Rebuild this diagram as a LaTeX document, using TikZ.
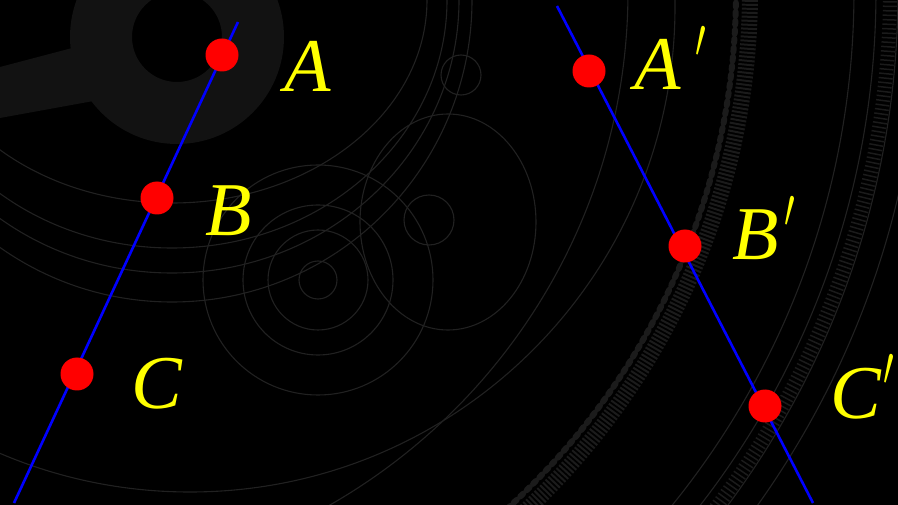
\documentclass[tikz,border=0pt]{standalone}
\usepackage{fontspec}
\setmainfont{Liberation Serif}
\usepackage{graphicx}
\DeclareFontShape{OMS}{cmsy}{m}{n}{<->cmsy10}{}
\definecolor{bgline}{RGB}{33,33,33}
\definecolor{bgteeth}{RGB}{27,27,27}
\definecolor{hubcol}{RGB}{18,18,18}
\definecolor{ptred}{RGB}{255,0,0}
\definecolor{lnblue}{RGB}{0,0,255}
\definecolor{lblyel}{RGB}{255,255,0}
\newcommand{\prm}[1]{\kern#1\raisebox{4pt}{\scalebox{0.72}[1.05]{$^{\prime}$}}}
\begin{document}
\begin{tikzpicture}[x=1pt,y=-1pt,
  bg/.style={draw=bgline,line width=1.1pt},
  pt/.style={circle,fill=ptred,minimum size=33pt,inner sep=0pt},
  lbl/.style={text=lblyel,font=\fontsize{76}{84}\selectfont\itshape,anchor=base west,inner sep=0pt},
  ln/.style={draw=lnblue,line width=2.6pt}]
\fill[black] (0,0) rectangle (898,505);
\useasboundingbox (0,0) rectangle (898,505);
\begin{scope}
\clip (0,0) rectangle (898,505);
% hub and arm
\fill[hubcol,even odd rule] (177,37) circle (107pt) (177,37) circle (45pt);
\fill[hubcol] (0,67) -- (95,42) -- (110,98) -- (0,118) -- cycle;
% arcs around hub
\draw[bg] (172,0) ellipse [x radius=255pt, y radius=203pt];
\draw[bg] (172,0) ellipse [x radius=275pt, y radius=248pt];
\draw[bg] (172,0) ellipse [x radius=287pt, y radius=273pt];
\draw[bg] (172,0) ellipse [x radius=300pt, y radius=302pt];
\draw[bg] (190,7) circle (485pt);
% central concentric circles
\foreach \r in {19,50,75,115} \draw[bg] (318,280) circle (\r pt);
\draw[bg] (448,222) ellipse [x radius=88pt, y radius=108pt];
\draw[bg] (429,220) circle (25pt);
\draw[bg] (461,75) circle (20pt);
% outer rings
\draw[bg] (36,-9) circle (592pt);
\draw[bgteeth,line width=16pt,dash pattern=on 2pt off 2pt] (36,-9) circle (714pt);
\draw[bgteeth,line width=6pt,line cap=round,dash pattern=on 4pt off 5pt] (36,-9) circle (700pt);
\draw[bg] (36,-9) circle (818pt);
\draw[bg] (36,-9) circle (840pt);
\draw[bgteeth,line width=14pt,dash pattern=on 1.5pt off 3pt] (36,-9) circle (854pt);
\draw[bg] (36,-9) circle (862pt);
\draw[bg] (36,-9) circle (886pt);
\end{scope}
% lines
\coordinate (L1) at (238,22);
\coordinate (L2) at (14,503);
\coordinate (R1) at (557,6);
\coordinate (R2) at (813,503);
\draw[ln] (L1) -- (L2);
\draw[ln] (R1) -- (R2);
% points
\node[pt] (A) at (222,55) {};
\node[pt] (B) at (157,198) {};
\node[pt] (C) at (77,374) {};
\node[pt] (Ap) at (589,71) {};
\node[pt] (Bp) at (685,246) {};
\node[pt] (Cp) at (765,406) {};
% labels
\node[lbl] (lA) at (284,92) {A};
\node[lbl] (lB) at (205,236) {B};
\node[lbl] (lC) at (131,408) {C};
\node[lbl] (lAp) at (634,90) {A\prm{0.19em}};
\node[lbl] (lBp) at (732,260) {B\prm{0.08em}};
\node[lbl] (lCp) at (830,418) {C\prm{0.03em}};
\end{tikzpicture}
\end{document}
